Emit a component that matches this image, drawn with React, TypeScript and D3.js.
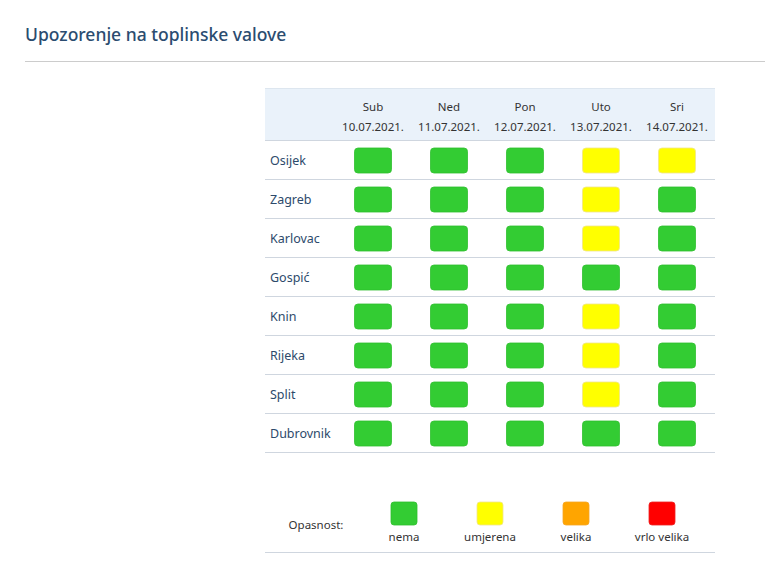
import React from 'react';
import * as d3 from 'd3';

const title = 'Upozorenje na toplinske valove';
const days = ['Sub', 'Ned', 'Pon', 'Uto', 'Sri'];
const dates = ['10.07.2021.', '11.07.2021.', '12.07.2021.', '13.07.2021.', '14.07.2021.'];
const cities = ['Osijek', 'Zagreb', 'Karlovac', 'Gospić', 'Knin', 'Rijeka', 'Split', 'Dubrovnik'];
// 0 = nema, 1 = umjerena, 2 = velika, 3 = vrlo velika
const levels: number[][] = [
  [0, 0, 0, 1, 1],
  [0, 0, 0, 1, 0],
  [0, 0, 0, 1, 0],
  [0, 0, 0, 0, 0],
  [0, 0, 0, 1, 0],
  [0, 0, 0, 1, 0],
  [0, 0, 0, 1, 0],
  [0, 0, 0, 0, 0],
];
const legendLabel = 'Opasnost:';
const levelNames = ['nema', 'umjerena', 'velika', 'vrlo velika'];
const levelColors = ['#33cc33', '#ffff00', '#ffa500', '#ff0000'];
const levelStroke = ['#2fbf2f', '#f0e48a', '#f5a623', '#ee2222'];

const W = 765;
const H = 567;
const FONT = "'Noto Sans', 'Open Sans', sans-serif";

export default function App() {
  const x = d3.scaleBand<string>().domain(days).range([335, 715]);
  const y = d3.scaleBand<string>().domain(cities).range([141, 453]);
  const color = d3.scaleOrdinal<number, string>().domain([0, 1, 2, 3]).range(levelColors);
  const lx = d3.scalePoint<string>().domain(levelNames).range([404, 662]);
  const cw = 37, ch = 25;
  const labelColor = '#2d4a6b';
  const lineColor = '#cfd6df';
  return (
    <svg width={W} height={H} style={{ position: 'absolute', left: 0, top: 0 }} fontFamily={FONT}>
      <rect width={W} height={H} fill="#ffffff" />
      <text x={25} y={41} fontSize={17.5} fill="#2b4c70" fontWeight={500}>{title}</text>
      <line x1={25} x2={765} y1={61.5} y2={61.5} stroke="#cccccc" strokeWidth={1} />
      <rect x={265} y={88} width={450} height={52} fill="#eaf2fa" />
      <line x1={265} x2={715} y1={88.5} y2={88.5} stroke="#dde6ef" />
      {days.map((d, i) => (
        <g key={d}>
          <text x={x(d)! + x.bandwidth() / 2} y={111} textAnchor="middle" fontSize={11.5} fill="#333">{d}</text>
          <text x={x(d)! + x.bandwidth() / 2} y={131} textAnchor="middle" fontSize={11.5} fill="#333">{dates[i]}</text>
        </g>
      ))}
      <line x1={265} x2={715} y1={140.5} y2={140.5} stroke={lineColor} />
      {cities.map((c, r) => (
        <g key={c}>
          <text x={270} y={y(c)! + y.bandwidth() / 2 + 4.5} fontSize={12.5} fill={labelColor}>{c}</text>
          <line x1={265} x2={715} y1={y(c)! + y.bandwidth() - 0.5} y2={y(c)! + y.bandwidth() - 0.5} stroke={lineColor} />
          {days.map((d, i) => (
            <rect
              key={d}
              x={x(d)! + x.bandwidth() / 2 - cw / 2}
              y={y(c)! + y.bandwidth() / 2 - ch / 2}
              width={cw}
              height={ch}
              rx={3.5}
              fill={color(levels[r][i])}
              stroke={levelStroke[levels[r][i]]}
              strokeWidth={0.8}
            />
          ))}
        </g>
      ))}
      <text x={316} y={529} textAnchor="middle" fontSize={11.5} fill="#333">{legendLabel}</text>
      {levelNames.map((n, i) => (
        <g key={n}>
          <rect x={lx(n)! - 13} y={502} width={26} height={23} rx={3} fill={levelColors[i]} stroke={levelStroke[i]} strokeWidth={0.8} />
          <text x={lx(n)!} y={541} textAnchor="middle" fontSize={11.5} fill="#333">{n}</text>
        </g>
      ))}
      <line x1={265} x2={715} y1={552.5} y2={552.5} stroke={lineColor} />
    </svg>
  );
}
